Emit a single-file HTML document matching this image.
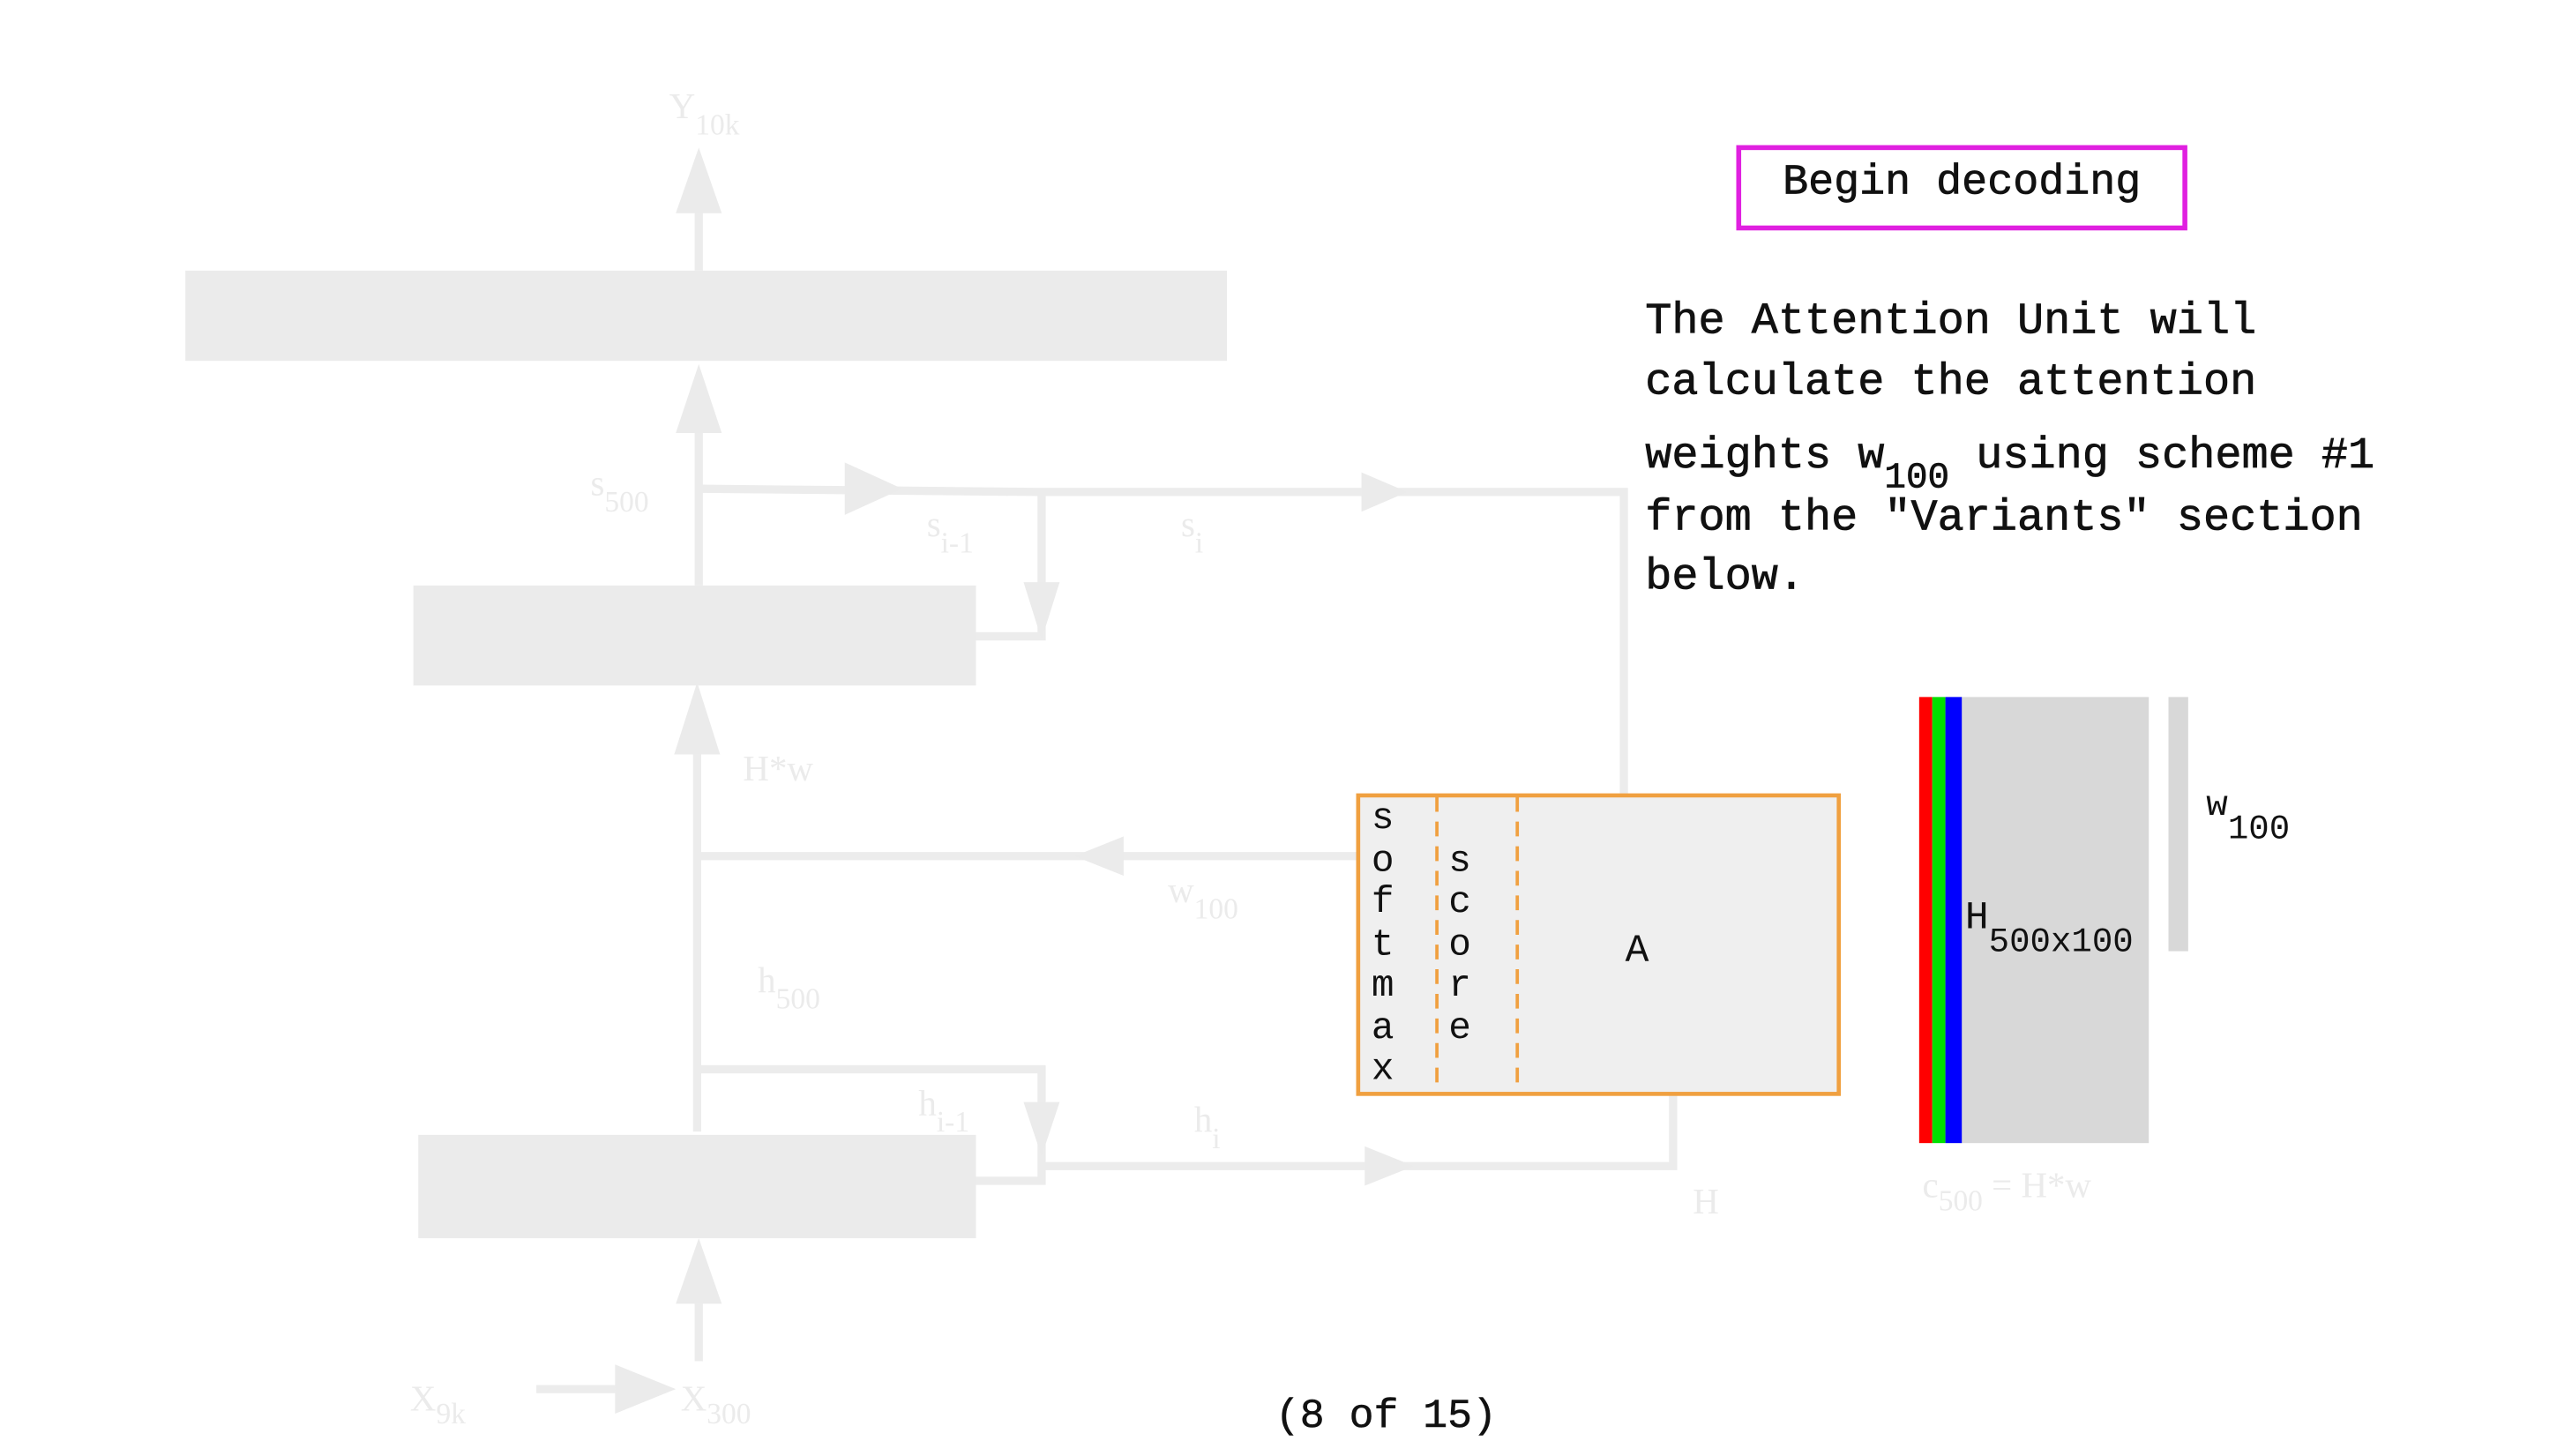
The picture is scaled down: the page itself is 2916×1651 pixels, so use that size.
<!DOCTYPE html>
<html><head><meta charset="utf-8"><style>
html,body{margin:0;padding:0;background:#fff;}
svg{display:block;}
.f{fill:#ebebeb;font-family:"Liberation Serif",serif;}
.m{font-family:"Liberation Mono",monospace;fill:#111;}
</style></head><body>
<svg width="2916" height="1651" viewBox="0 0 1568 887.8" preserveAspectRatio="none" xmlns="http://www.w3.org/2000/svg">
<rect width="1568" height="888" fill="#fff"/>
<g stroke="#ececec" stroke-width="5" fill="none">
<line x1="426" y1="165" x2="426" y2="125"/>
<line x1="426" y1="357" x2="426" y2="260"/>
<polyline points="426,298 635,300 990,300 990,485"/>
<polyline points="635,300 635,388 595,388"/>
<line x1="425" y1="690" x2="425" y2="455"/>
<line x1="426" y1="522" x2="828" y2="522"/>
<polyline points="426,652 635,652 635,720 595,720"/>
<polyline points="635,711 1020,711 1020,668"/>
<line x1="426" y1="830" x2="426" y2="790"/>
<line x1="327" y1="847" x2="380" y2="847"/>
</g>
<g fill="#ebebeb">
<polygon points="426,90 412,130 440,130"/>
<polygon points="426,222 412,264 440,264"/>
<polygon points="550,298 515,282 515,314"/>
<polygon points="858,300 830,288 830,312"/>
<polygon points="635,390 624,355 646,355"/>
<polygon points="425,416 411,460 439,460"/>
<polygon points="655,522 685,510 685,534"/>
<polygon points="635,705 624,672 646,672"/>
<polygon points="862,711 832,699 832,723"/>
<polygon points="426,755 412,795 440,795"/>
<polygon points="412,847 375,832 375,862"/>
</g>
<rect x="113" y="165" width="635" height="55" fill="#ebebeb"/>
<rect x="252" y="357" width="343" height="61" fill="#ebebeb"/>
<rect x="255" y="692" width="340" height="63" fill="#ebebeb"/>
<g class="f" font-size="22">
<text x="408" y="72">Y<tspan font-size="18" dy="10">10k</tspan></text>
<text x="360" y="302">s<tspan font-size="18" dy="10">500</tspan></text>
<text x="565" y="327">s<tspan font-size="18" dy="10">i-1</tspan></text>
<text x="720" y="327">s<tspan font-size="18" dy="10">i</tspan></text>
<text x="453" y="476">H*w</text>
<text x="712" y="550">w<tspan font-size="18" dy="10">100</tspan></text>
<text x="462" y="605">h<tspan font-size="18" dy="10">500</tspan></text>
<text x="560" y="680">h<tspan font-size="18" dy="10">i-1</tspan></text>
<text x="728" y="690">h<tspan font-size="18" dy="10">i</tspan></text>
<text x="1032" y="740">H</text>
<text x="250" y="860">X<tspan font-size="18" dy="8">9k</tspan></text>
<text x="415" y="860">X<tspan font-size="18" dy="8">300</tspan></text>
<text x="1172" y="730">c<tspan font-size="18" dy="8">500</tspan><tspan dy="-8"> = H*w</tspan></text>
</g>
<rect x="828" y="485" width="293" height="182" fill="#efefef" stroke="#f0a040" stroke-width="2.5"/>
<line x1="876" y1="486" x2="876" y2="666" stroke="#f0a040" stroke-width="2" stroke-dasharray="9,6"/>
<line x1="925" y1="486" x2="925" y2="666" stroke="#f0a040" stroke-width="2" stroke-dasharray="9,6"/>
<g class="m" font-size="23" text-anchor="middle">
<text x="843" y="505">s</text><text x="843" y="531">o</text><text x="843" y="556">f</text><text x="843" y="582">t</text><text x="843" y="607">m</text><text x="843" y="633">a</text><text x="843" y="658">x</text>
</g>
<g class="m" font-size="23" text-anchor="middle">
<text x="890" y="531">s</text><text x="890" y="556">c</text><text x="890" y="582">o</text><text x="890" y="607">r</text><text x="890" y="633">e</text>
</g>
<text class="m" x="998" y="586" font-size="24" text-anchor="middle">A</text>
<rect x="1195" y="425" width="115" height="272" fill="#d8d8d8"/>
<rect x="1170" y="425" width="8" height="272" fill="#ff0000"/>
<rect x="1178" y="425" width="8" height="272" fill="#00e000"/>
<rect x="1186" y="425" width="10" height="272" fill="#0000ff"/>
<rect x="1322" y="425" width="12" height="155" fill="#d8d8d8"/>
<text class="m" x="1198" y="566" font-size="24">H<tspan font-size="21" dy="14">500x100</tspan></text>
<text class="m" x="1345" y="497" font-size="22">w<tspan font-size="21" dy="14">100</tspan></text>
<rect x="1060" y="90" width="272" height="49" fill="none" stroke="#e020e0" stroke-width="3"/>
<text class="m" x="1196" y="118" font-size="26" text-anchor="middle" stroke="#111" stroke-width="0.4">Begin decoding</text>
<g class="m" font-size="27" stroke="#111" stroke-width="0.4">
<text x="1003" y="203">The Attention Unit will</text>
<text x="1003" y="240">calculate the attention</text>
<text x="1003" y="285">weights w<tspan font-size="22" dy="12">100</tspan><tspan dy="-12"> using scheme #1</tspan></text>
<text x="1003" y="323">from the "Variants" section</text>
<text x="1003" y="359">below.</text>
</g>
<text class="m" x="845" y="870" font-size="25" text-anchor="middle" stroke="#111" stroke-width="0.3">(8 of 15)</text>
</svg>
</body></html>
